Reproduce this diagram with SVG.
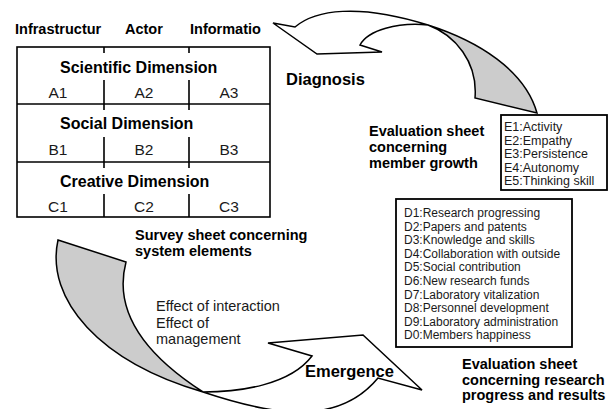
<svg xmlns="http://www.w3.org/2000/svg" width="612" height="409" viewBox="0 0 612 409">
<style>
.b{font-family:"Liberation Sans",Arial,sans-serif;font-weight:bold;fill:#000}
.r{font-family:"Liberation Sans",Arial,sans-serif;fill:#1a1a1a}
.hd{font-size:14.5px}
.dim{font-size:16px}
.cell{font-size:15.5px;text-anchor:middle}
.lbl{font-size:14.5px}
.big{font-size:16.5px}
.ln{fill:none;stroke:#000;stroke-width:1.6}
.box{fill:#fff;stroke:#000;stroke-width:1.8}
.arr{fill:#fff;stroke:#000;stroke-width:1.5;stroke-linejoin:miter}
.tw{fill:#cccccc;stroke:#000;stroke-width:1.5}
</style>
<rect width="612" height="409" fill="#fff"/>

<g id="connectors">
  <!-- Diagnosis arrow (top) -->
  <path class="arr" d="M295,27 C315,10 358,3 428,25 C398,22 368,30 360,45 L382,52 L317,54 L273,23 Z"/>
  <path class="tw" d="M428,25 C478,41 525,70 537,113 L475,98 C478,62 455,35 428,25 Z"/>
  <!-- Emergence arrow (bottom) -->
  <path class="arr" d="M203,392 C240,392 290,385 312,356 L268,343 L363,335 L422,390 L378,378 C335,430 263,412 203,392 Z"/>
  <path class="tw" d="M58,240 L126,262 C116,300 130,345 203,392 C100,362 45,300 58,240 Z"/>
</g>

<g id="survey-table">
  <text class="b hd" x="15" y="34">Infrastructur</text>
  <text class="b hd" x="125" y="34">Actor</text>
  <text class="b hd" x="190" y="34">Informatio</text>
  <rect class="ln" x="17" y="47" width="253" height="170"/>
  <line class="ln" x1="17" y1="104" x2="270" y2="104"/>
  <line class="ln" x1="17" y1="162" x2="270" y2="162"/>
  <path class="ln" d="M104,47 V53 M104,80 V104 M104,104 V110 M104,137 V162 M104,162 V168 M104,194 V217 M189,47 V53 M189,80 V104 M189,104 V110 M189,137 V162 M189,162 V168 M189,194 V217"/>
  <text class="b dim" x="60" y="73">Scientific Dimension</text>
  <text class="r cell" x="58" y="98">A1</text>
  <text class="r cell" x="144" y="98">A2</text>
  <text class="r cell" x="229" y="98">A3</text>
  <text class="b dim" x="60" y="129">Social Dimension</text>
  <text class="r cell" x="58" y="155">B1</text>
  <text class="r cell" x="144" y="155">B2</text>
  <text class="r cell" x="229" y="155">B3</text>
  <text class="b dim" x="60" y="187">Creative Dimension</text>
  <text class="r cell" x="58" y="212">C1</text>
  <text class="r cell" x="144" y="212">C2</text>
  <text class="r cell" x="229" y="212">C3</text>
</g>

<g id="survey-label">
  <text class="b lbl" x="135" y="240">Survey sheet concerning</text>
  <text class="b lbl" x="135" y="256">system elements</text>
</g>

<g id="diagnosis-label">
  <text class="b big" x="286" y="85">Diagnosis</text>
</g>

<g id="member-growth-label">
  <text class="b lbl" x="369" y="136">Evaluation sheet</text>
  <text class="b lbl" x="369" y="152">concerning</text>
  <text class="b lbl" x="369" y="168">member growth</text>
</g>

<g id="e-box">
  <defs><clipPath id="ec"><rect x="501" y="115" width="106" height="75"/></clipPath></defs>
  <rect class="box" x="501" y="115" width="106" height="75"/>
  <g clip-path="url(#ec)" class="r" font-size="12.5">
    <text x="504" y="131">E1:Activity</text>
    <text x="504" y="144.5">E2:Empathy</text>
    <text x="504" y="158">E3:Persistence</text>
    <text x="504" y="171.5">E4:Autonomy</text>
    <text x="504" y="185">E5:Thinking skill</text>
  </g>
</g>

<g id="d-box">
  <rect class="box" x="396" y="199" width="176" height="148"/>
  <g class="r" font-size="12">
    <text x="404" y="217">D1:Research progressing</text>
    <text x="404" y="230.5">D2:Papers and patents</text>
    <text x="404" y="244">D3:Knowledge and skills</text>
    <text x="404" y="257.5">D4:Collaboration with outside</text>
    <text x="404" y="271">D5:Social contribution</text>
    <text x="404" y="285">D6:New research funds</text>
    <text x="404" y="298.5">D7:Laboratory vitalization</text>
    <text x="404" y="312">D8:Personnel development</text>
    <text x="404" y="325.5">D9:Laboratory administration</text>
    <text x="404" y="339">D0:Members happiness</text>
  </g>
</g>

<g id="effect-label">
  <text class="r" font-size="14.5" x="156" y="311">Effect of interaction</text>
  <text class="r" font-size="14.5" x="156" y="328">Effect of</text>
  <text class="r" font-size="14.5" x="156" y="344">management</text>
</g>

<g id="emergence-label">
  <text class="b big" x="305" y="377">Emergence</text>
</g>

<g id="research-label">
  <text class="b lbl" x="462" y="369">Evaluation sheet</text>
  <text class="b lbl" x="462" y="385">concerning research</text>
  <text class="b lbl" x="462" y="400">progress and results</text>
</g>
</svg>
